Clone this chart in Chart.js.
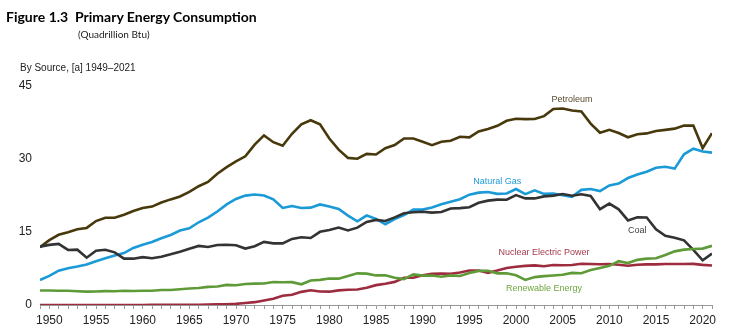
<!DOCTYPE html>
<html>
<head>
<meta charset="utf-8">
<script src="https://cdn.jsdelivr.net/npm/chart.js@4/dist/chart.umd.min.js"></script>
<style>
  html, body { margin: 0; padding: 0; background: #fff; }
  #wrap { position: relative; width: 750px; height: 336px; }
  #c { position: absolute; left: 0; top: 0; }
  .t { position: absolute; white-space: nowrap; color: #000; }
  #title { left: 6px; top: 8px; font: bold 14px Lato, "Open Sans", sans-serif; }
  #sub { left: 78px; top: 28px; font: 10px Lato, "Liberation Sans", Arial, sans-serif; color: #222; }
  #src { left: 20px; top: 62px; font: 10px "Liberation Sans", Arial, sans-serif; color: #222; }
</style>
</head>
<body>
<div id="wrap">
  <canvas id="c" width="750" height="336"></canvas>
  <div class="t" id="title">Figure 1.3&nbsp; Primary Energy Consumption</div>
  <div class="t" id="sub">(Quadrillion Btu)</div>
  <div class="t" id="src">By Source, [a] 1949–2021</div>
</div>
<script>
const years = [];
for (let y = 1949; y <= 2021; y++) years.push(y);

const petroleum = [11.88,13.32,14.43,14.96,15.56,15.84,17.25,17.94,17.93,18.53,19.32,19.92,20.22,21.05,21.70,22.30,23.25,24.40,25.28,26.98,28.34,29.52,30.56,32.95,34.84,33.45,32.73,35.18,37.12,37.97,37.12,34.20,31.93,30.23,30.05,31.05,30.92,32.20,32.87,34.22,34.21,33.55,32.85,33.53,33.74,34.56,34.44,35.67,36.16,36.82,37.84,38.26,38.19,38.22,38.81,40.29,40.39,39.96,39.77,37.28,35.40,35.99,35.33,34.46,35.08,35.26,35.75,35.99,36.24,36.89,36.86,32.24,35.31];
const naturalGas = [5.15,5.97,7.05,7.55,7.91,8.33,9.00,9.61,10.19,10.66,11.72,12.39,12.93,13.73,14.40,15.29,15.77,17.00,17.94,19.21,20.68,21.79,22.47,22.70,22.51,21.73,19.95,20.35,19.93,20.00,20.67,20.23,19.74,18.36,17.20,18.38,17.70,16.59,17.64,18.45,19.60,19.60,20.03,20.71,21.23,21.73,22.67,23.09,23.22,22.83,22.91,23.82,22.77,23.56,22.83,22.91,22.56,22.22,23.66,23.84,23.42,24.57,24.96,26.09,26.81,27.38,28.19,28.40,28.03,30.96,32.12,31.54,31.30];
const coal = [11.98,12.35,12.55,11.31,11.37,9.72,11.17,11.35,10.82,9.53,9.52,9.84,9.62,9.91,10.41,10.96,11.58,12.14,11.91,12.33,12.38,12.27,11.60,12.08,12.97,12.66,12.66,13.58,13.92,13.77,15.04,15.42,15.91,15.32,15.89,17.07,17.48,17.26,18.01,18.85,19.07,19.17,18.99,19.12,19.84,19.91,20.09,21.00,21.45,21.66,21.62,22.58,21.91,21.90,22.32,22.47,22.80,22.45,22.75,22.39,19.69,20.83,19.66,17.38,18.04,17.99,15.55,14.23,13.84,13.28,11.31,9.18,10.55];
const nuclear = [0,0,0,0,0,0,0,0,0,0.002,0.002,0.006,0.02,0.026,0.038,0.04,0.043,0.064,0.088,0.142,0.154,0.239,0.413,0.584,0.91,1.27,1.90,2.11,2.70,3.02,2.78,2.74,3.01,3.13,3.20,3.55,4.08,4.38,4.75,5.59,5.60,6.10,6.42,6.48,6.41,6.69,7.08,7.09,6.60,7.07,7.61,7.86,8.03,8.14,7.96,8.22,8.16,8.21,8.46,8.43,8.36,8.43,8.27,8.06,8.27,8.34,8.34,8.43,8.42,8.44,8.45,8.25,8.13];
const renewable = [2.97,2.98,2.94,2.94,2.83,2.75,2.78,2.85,2.84,2.93,2.87,2.93,2.94,3.09,3.07,3.23,3.40,3.48,3.72,3.80,4.13,4.07,4.30,4.40,4.41,4.74,4.69,4.70,4.25,5.04,5.17,5.43,5.41,5.98,6.50,6.44,6.08,6.11,5.60,5.33,6.28,6.04,6.07,5.82,6.08,5.97,6.56,7.01,7.02,6.50,6.52,6.10,5.16,5.73,5.94,6.07,6.22,6.60,6.52,7.18,7.60,8.05,9.00,8.62,9.27,9.52,9.60,10.29,11.02,11.37,11.50,11.59,12.16];

const yTicks = [0, 15, 30, 45];
const xLabelStep = 5;

// series labels: [text, year, value, colour]
const seriesLabels = [
  ["Petroleum", 2006.0, 42.3, "#5a4a2c"],
  ["Natural Gas", 1998.0, 25.3, "#1e9bd7"],
  ["Coal", 2013.0, 15.25, "#404040"],
  ["Nuclear Electric Power", 2003.0, 10.7, "#a53a4c"],
  ["Renewable Energy", 2003.0, 3.3, "#6ea640"]
];

const pts = arr => arr.map((v, i) => ({x: years[i], y: v}));

const labelPlugin = {
  id: 'seriesLabels',
  afterDatasetsDraw(chart) {
    const ctx = chart.ctx, xs = chart.scales.x, ys = chart.scales.y;
    ctx.save();
    ctx.font = '9px "Liberation Sans Narrow", "Liberation Sans", Arial, sans-serif';
    ctx.textAlign = 'center';
    ctx.textBaseline = 'middle';
    seriesLabels.forEach(([t, x, y, c]) => {
      ctx.fillStyle = c;
      ctx.fillText(t, xs.getPixelForValue(x), ys.getPixelForValue(y));
    });
    ctx.restore();
  }
};

const ds = (label, data, color) => ({
  label, data: pts(data), borderColor: color, backgroundColor: color,
  borderWidth: 2.6, pointRadius: 0, tension: 0, fill: false
});

new Chart(document.getElementById('c'), {
  type: 'line',
  data: {
    datasets: [
      ds('Renewable Energy', renewable, '#5e9a38'),
      ds('Nuclear Electric Power', nuclear, '#9c2c3e'),
      ds('Coal', coal, '#333333'),
      ds('Natural Gas', naturalGas, '#1a9ad6'),
      ds('Petroleum', petroleum, '#47390c')
    ]
  },
  options: {
    responsive: false,
    animation: false,
    layout: { padding: { left: 0, right: 38, top: 86, bottom: 0 } },
    plugins: { legend: { display: false }, tooltip: { enabled: false }, title: { display: false } },
    scales: {
      x: {
        type: 'linear', min: 1949, max: 2021,
        afterFit: s => { s.height = 31; },
        afterBuildTicks: s => { s.ticks = years.map(v => ({value: v})); },
        grid: { drawOnChartArea: false, drawTicks: true, tickLength: 4, color: '#999' },
        border: { display: true, color: '#999', width: 1 },
        ticks: {
          autoSkip: false, maxRotation: 0, padding: 4, color: '#222',
          font: { family: '"Liberation Sans Narrow", "Liberation Sans", Arial, sans-serif', size: 12 },
          callback: v => (v % xLabelStep === 0 ? String(v) : '')
        }
      },
      y: {
        min: 0, max: 45,
        afterFit: s => { s.width = 40; },
        afterBuildTicks: s => { s.ticks = yTicks.map(v => ({value: v})); },
        grid: { display: false, drawTicks: false },
        border: { display: false },
        ticks: {
          padding: 8, color: '#222',
          font: { family: '"Liberation Sans Narrow", "Liberation Sans", Arial, sans-serif', size: 12 }
        }
      }
    }
  },
  plugins: [labelPlugin]
});
</script>
</body>
</html>
